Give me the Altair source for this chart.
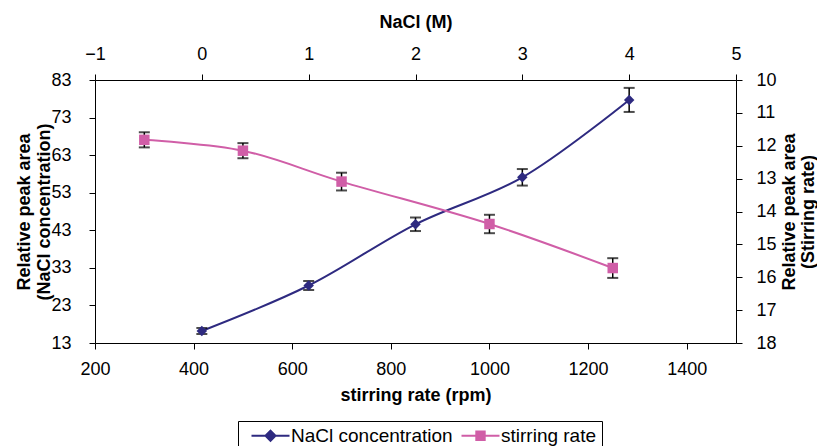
import altair as alt
import pandas as pd

# ---- data ----
nacl_m = [0, 1, 2, 3, 4]
nacl_area = [16.2, 28.3, 44.6, 57.1, 77.7]
nacl_err = [0.8, 1.2, 1.8, 2.2, 3.2]

stir_rpm = [300, 500, 700, 1000, 1250]
stir_area = [11.82, 12.15, 13.09, 14.38, 15.72]
stir_err = [0.23, 0.23, 0.27, 0.28, 0.30]

series_names = ["NaCl concentration", "stirring rate"]
series_colors = ["#2E2A80", "#D05EA7"]

top_ticks = [-1, 0, 1, 2, 3, 4, 5]
bottom_ticks = [200, 400, 600, 800, 1000, 1200, 1400]
left_ticks = [13, 23, 33, 43, 53, 63, 73, 83]
right_ticks = [10, 11, 12, 13, 14, 15, 16, 17, 18]

FONT = "Liberation Sans"
BLUE, PINK = series_colors

nacl_df = pd.DataFrame({
    "M": nacl_m,
    "area": nacl_area,
    "lo": [a - e for a, e in zip(nacl_area, nacl_err)],
    "hi": [a + e for a, e in zip(nacl_area, nacl_err)],
})
stir_df = pd.DataFrame({
    "rpm": stir_rpm,
    "area": stir_area,
    "lo": [a - e for a, e in zip(stir_area, stir_err)],
    "hi": [a + e for a, e in zip(stir_area, stir_err)],
})
legend_df = pd.DataFrame({"series": series_names})

# ---- scales / axes ----
x_top_scale = alt.Scale(domain=[-1, 5], nice=False, zero=False)
x_top_axis = alt.Axis(orient="top", title="NaCl (M)", values=top_ticks, format="d",
                      labelFlush=False, labelPadding=11, titlePadding=14)
y_left_scale = alt.Scale(domain=[13, 83], nice=False, zero=False)
y_left_axis = alt.Axis(orient="left", title=["Relative peak area", "(NaCl concentration)"],
                       values=left_ticks, labelPadding=18, titlePadding=-3)

x_bot_scale = alt.Scale(domain=[200, 1500], nice=False, zero=False)
x_bot_axis = alt.Axis(orient="bottom", title="stirring rate (rpm)", values=bottom_ticks,
                      format="d", labelFlush=False, labelPadding=11, titlePadding=8)
y_right_scale = alt.Scale(domain=[10, 18], nice=False, zero=False, reverse=True)
y_right_axis = alt.Axis(orient="right", title=["Relative peak area", "(Stirring rate)"],
                        values=right_ticks, labelPadding=14, titlePadding=-15,
                        titleAngle=-90, titleBaseline="top", titleLineHeight=19)

# ---- NaCl series (top x, left y) ----
nb = alt.Chart(nacl_df).encode(x=alt.X("M:Q", scale=x_top_scale, axis=x_top_axis))
ny = lambda f: alt.Y(f, type="quantitative", scale=y_left_scale, axis=y_left_axis)
nacl_layer = alt.layer(
    nb.mark_line(color=BLUE, strokeWidth=2, interpolate="catmull-rom").encode(y=ny("area")),
    nb.mark_rule(color="black", strokeWidth=1.5).encode(y=ny("lo"), y2="hi"),
    nb.mark_tick(color="black", orient="horizontal", size=11, thickness=2).encode(y=ny("lo")),
    nb.mark_tick(color="black", orient="horizontal", size=11, thickness=2).encode(y=ny("hi")),
    nb.mark_point(shape="diamond", filled=True, color=BLUE, size=110, opacity=1).encode(y=ny("area")),
)

# ---- stirring series (bottom x, right y) ----
sb = alt.Chart(stir_df).encode(x=alt.X("rpm:Q", scale=x_bot_scale, axis=x_bot_axis))
sy = lambda f: alt.Y(f, type="quantitative", scale=y_right_scale, axis=y_right_axis)
stir_layer = alt.layer(
    sb.mark_line(color=PINK, strokeWidth=2, interpolate="catmull-rom").encode(y=sy("area")),
    sb.mark_rule(color="black", strokeWidth=1.5).encode(y=sy("lo"), y2="hi"),
    sb.mark_tick(color="black", orient="horizontal", size=11, thickness=2).encode(y=sy("lo")),
    sb.mark_tick(color="black", orient="horizontal", size=11, thickness=2).encode(y=sy("hi")),
    sb.mark_point(shape="square", filled=True, color=PINK, size=110, opacity=1).encode(y=sy("area")),
)

# ---- legend (Excel-like line + marker symbols) ----
diamond_sym = "M-4.75,0H4.75M-1.25,0L0,-1.25L1.25,0L0,1.25Z"
square_sym = "M-4.75,0H4.75M-1.05,-1.05H1.05V1.05H-1.05Z"
leg = alt.Legend(title=None, orient="none", legendX=143, legendY=341, direction="horizontal",
                 strokeColor="black", fillColor="white", padding=5, cornerRadius=0,
                 symbolSize=64, symbolStrokeWidth=2, symbolOpacity=1, symbolOffset=18,
                 labelOffset=11, columnPadding=-7, labelFont=FONT, labelFontSize=19,
                 labelLimit=400, labelColor="black")
legend_layer = alt.Chart(legend_df).mark_point(filled=True, opacity=0).encode(
    fill=alt.Fill("series:N", scale=alt.Scale(domain=series_names, range=series_colors), legend=leg),
    stroke=alt.Stroke("series:N", scale=alt.Scale(domain=series_names, range=series_colors), legend=leg),
    shape=alt.Shape("series:N", scale=alt.Scale(domain=series_names, range=[diamond_sym, square_sym]), legend=leg),
)

chart = alt.layer(nacl_layer, stir_layer, legend_layer).resolve_scale(
    x="independent", y="independent"
).properties(
    width=641, height=263,
    autosize=alt.AutoSizeParams(type="none"),
    padding={"left": 87, "top": 72, "right": 81, "bottom": 110},
    background="white",
).configure_view(stroke=None).configure_axis(
    domainColor="black", domainWidth=1, tickColor="black", tickSize=6, tickWidth=1,
    labelFont=FONT, labelFontSize=18, labelColor="black",
    titleFont=FONT, titleFontSize=18, titleFontWeight="bold", titleColor="black",
    titleLineHeight=20, grid=False,
)

chart.save("out.html", embed_options={"renderer": "svg", "actions": False})
